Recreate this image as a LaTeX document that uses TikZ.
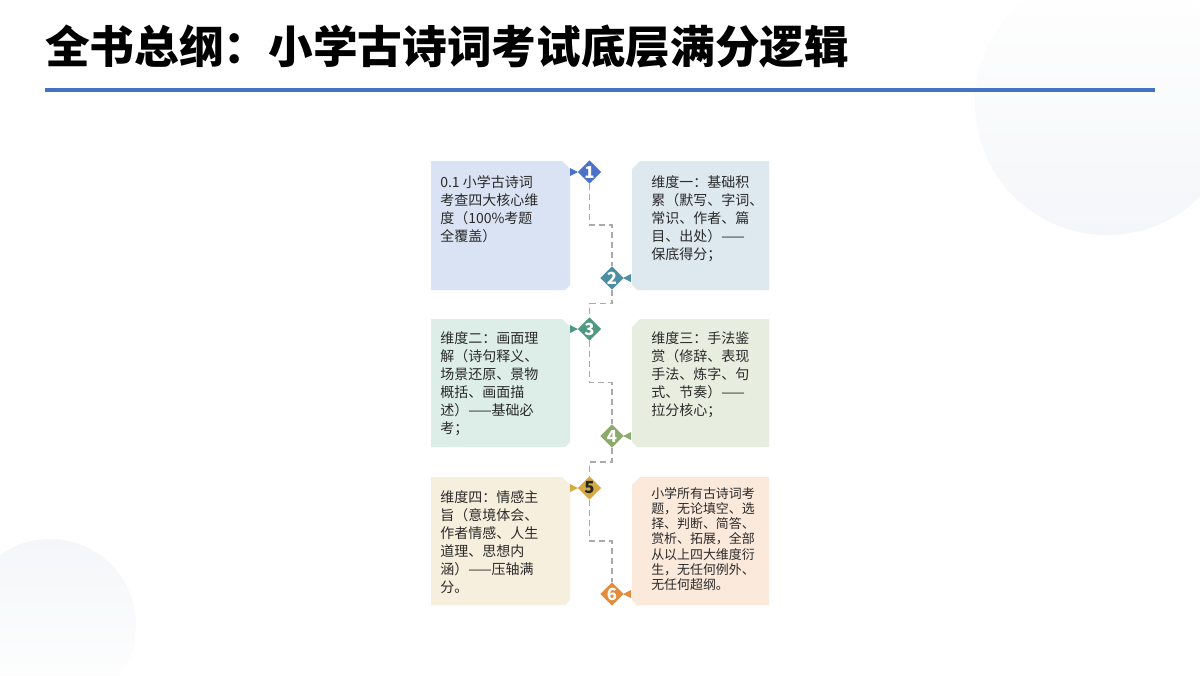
\documentclass[tikz,border=0pt]{standalone}
\usepackage{fontspec}
\setmainfont{Noto Sans CJK SC}
\usetikzlibrary{shapes.geometric,calc}
\definecolor{bA}{HTML}{DAE3F3}
\definecolor{bB}{HTML}{DDE9EF}
\definecolor{bC}{HTML}{DDEDE8}
\definecolor{bD}{HTML}{E7EEE0}
\definecolor{bE}{HTML}{F7EFDD}
\definecolor{bF}{HTML}{FBE9DB}
\definecolor{dA}{HTML}{4A72C8}
\definecolor{dB}{HTML}{4D8EA3}
\definecolor{dC}{HTML}{4E9A7F}
\definecolor{dD}{HTML}{8BAA6C}
\definecolor{dE}{HTML}{D6AA42}
\definecolor{dF}{HTML}{E38C3B}
\definecolor{txtgray}{HTML}{2A2A2A}
\definecolor{dashgray}{HTML}{AAAAAA}
\definecolor{lineblue}{HTML}{4472C4}
\definecolor{bgcirc}{HTML}{F5F6F9}
\begin{document}
\begin{tikzpicture}[x=0.75pt,y=-0.75pt,
  txt/.style={anchor=north west, align=left, inner sep=0pt, text=txtgray,
    font=\fontsize{10.5pt}{13.5pt}\selectfont},
  txtsmall/.style={txt, font=\fontsize{9.7pt}{11.3pt}\selectfont},
  dmd/.style={diamond, fill=#1, minimum width=17.6pt, minimum height=17.6pt,
    inner sep=0pt, text=white, font=\bfseries\fontsize{12.5pt}{12.5pt}\selectfont},
  dashline/.style={draw=dashgray, line width=1.1pt, dash pattern=on 4.5pt off 3pt}]
\useasboundingbox (0,0) rectangle (1200,675);
\fill[white] (0,0) rectangle (1200,675);
% background circles
\begin{scope}
\clip (0,0) rectangle (1200,675);
\shade[top color=white, bottom color=bgcirc] (1107,103) circle (132);
\shade[top color=bgcirc, bottom color=white] (50,625) circle (86);
\end{scope}
% title
\node[anchor=west, inner sep=0pt, font=\bfseries\fontsize{33.5pt}{36pt}\selectfont] (title) at (45,47) {全书总纲：小学古诗词考试底层满分逻辑};
\draw[lineblue, line width=2.3pt] (45,90) -- (1155,90);
% boxes
\fill[bA] (431,161) -- (562,161) -- (570,169) -- (570,285) -- (565,290) -- (431,290) -- cycle;
\fill[bB] (640,161) -- (769,161) -- (769,290) -- (637,290) -- (632,285) -- (632,169) -- cycle;
\fill[bC] (431,319) -- (562,319) -- (570,327) -- (570,442) -- (565,447) -- (431,447) -- cycle;
\fill[bD] (640,319) -- (769,319) -- (769,447) -- (637,447) -- (632,442) -- (632,327) -- cycle;
\fill[bE] (431,477) -- (562,477) -- (570,485) -- (570,600) -- (565,605) -- (431,605) -- cycle;
\fill[bF] (640,477) -- (769,477) -- (769,605) -- (637,605) -- (632,600) -- (632,485) -- cycle;
% texts
\node[txt] (t1) at (440,175.5) {0.1 小学古诗词\\考查四大核心维\\度（100\%考题\\全覆盖）};
\node[txt] (t2) at (651,175.5) {维度一：基础积\\累（默写、字词、\\常识、作者、篇\\目、出处）——\\保底得分；};
\node[txt] (t3) at (440,331.5) {维度二：画面理\\解（诗句释义、\\场景还原、景物\\概括、画面描\\述）——基础必\\考；};
\node[txt] (t4) at (651,331.5) {维度三：手法鉴\\赏（修辞、表现\\手法、炼字、句\\式、节奏）——\\拉分核心；};
\node[txt] (t5) at (440,490.5) {维度四：情感主\\旨（意境体会、\\作者情感、人生\\道理、思想内\\涵）——压轴满\\分。};
\node[txtsmall] (t6) at (651,487.5) {小学所有古诗词考\\题，无论填空、选\\择、判断、简答、\\赏析、拓展，全部\\从以上四大维度衍\\生，无任何例外、\\无任何超纲。};
% pointers
\fill[dA] (570,168) -- (578,172) -- (570,176) -- cycle;
\fill[dB] (631,274) -- (623,278) -- (631,282) -- cycle;
\fill[dC] (570,325) -- (578,329) -- (570,333) -- cycle;
\fill[dD] (631,432) -- (623,436) -- (631,440) -- cycle;
\fill[dE] (570,484) -- (578,488) -- (570,492) -- cycle;
\fill[dF] (631,590) -- (623,594) -- (631,598) -- cycle;
% diamonds
\node[dmd=dA] (d1) at (589.5,172) {1};
\node[dmd=dB] (d2) at (612,278) {2};
\node[dmd=dC] (d3) at (589.5,329) {3};
\node[dmd=dD] (d4) at (612,436) {4};
\node[dmd=dE, text=black!85] (d5) at (589.5,488) {5};
\node[dmd=dF] (d6) at (612,594) {6};
% connectors
\draw[dashline] (d1.south) |- ($(d1)!.5!(d2)$) -| (d2.north);
\draw[dashline] (d2.south) |- ($(d2)!.5!(d3)$) -| (d3.north);
\draw[dashline] (d3.south) |- ($(d3)!.5!(d4)$) -| (d4.north);
\draw[dashline] (d4.south) |- ($(d4)!.5!(d5)$) -| (d5.north);
\draw[dashline] (d5.south) |- ($(d5)!.5!(d6)$) -| (d6.north);
\end{tikzpicture}
\end{document}
